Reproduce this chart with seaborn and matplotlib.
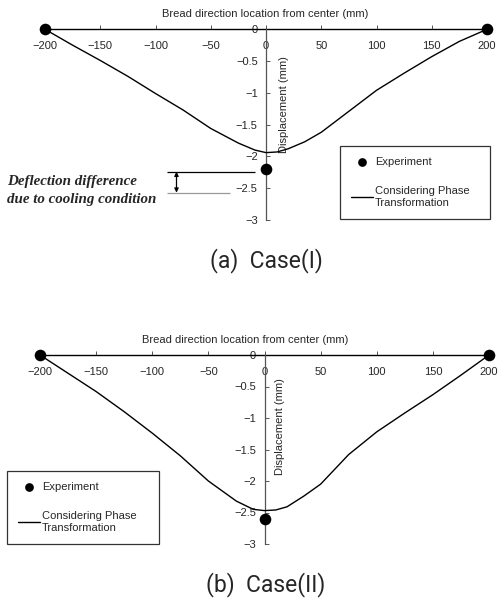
import matplotlib
matplotlib.use("Agg")
import matplotlib.pyplot as plt
import seaborn as sns
import pandas as pd

# ---------------- data ----------------
curve_x = [-200, -175, -150, -125, -100, -75, -50, -25, -10, 0, 10, 20, 35, 50, 75, 100, 125, 150, 175, 200]
case1_y = [0, -0.25, -0.49, -0.74, -1.01, -1.27, -1.56, -1.79, -1.90, -1.94, -1.93, -1.88, -1.77, -1.62, -1.29, -0.96, -0.69, -0.43, -0.19, 0]
case2_y = [0, -0.29, -0.58, -0.90, -1.24, -1.60, -2.00, -2.32, -2.45, -2.47, -2.46, -2.41, -2.24, -2.05, -1.58, -1.22, -0.92, -0.63, -0.32, 0]

exp_x = [-200, 0, 200]
exp1_y = [0, -2.2, 0]
exp2_y = [0, -2.6, 0]

diff_levels = [-2.24, -2.57]   # deflection-difference reference lines (case I)

xticks = [-200, -150, -100, -50, 0, 50, 100, 150, 200]
xtick_labels = ["\u2212200", "\u2212150", "\u2212100", "\u221250", "0", "50", "100", "150", "200"]
yticks = [0, -0.5, -1, -1.5, -2, -2.5, -3]
ytick_labels = ["0", "\u22120.5", "\u22121", "\u22121.5", "\u22122", "\u22122.5", "\u22123"]

xlabel = "Bread direction location from center (mm)"
ylabel = "Displacement (mm)"
exp_label = "Experiment"
sim_label = "Considering Phase\nTransformation"

# ---------------- style ----------------
sns.set_style("white")
plt.rcParams["font.family"] = ["Liberation Sans", "DejaVu Sans"]
plt.rcParams["axes.unicode_minus"] = True

W, H = 498, 599
fig = plt.figure(figsize=(W / 100, H / 100), dpi=100)


def make_panel(rect, cx, cy, ey, legend_box, xlabel_coords, ylabel_coords):
    ax = fig.add_axes(rect)
    ax.set_facecolor("none")
    df = pd.DataFrame({"x": cx, "y": cy})
    de = pd.DataFrame({"x": exp_x, "y": ey})
    sns.lineplot(data=df, x="x", y="y", ax=ax, color="black", lw=1.0,
                 label=sim_label, clip_on=False, zorder=3)
    sns.scatterplot(data=de, x="x", y="y", ax=ax, color="black", s=70,
                    edgecolor="black", linewidth=0, label=exp_label,
                    clip_on=False, zorder=4)
    ax.set_xlim(-200, 200)
    ax.set_ylim(-3, 0)
    for s in ["top", "right"]:
        ax.spines[s].set_visible(False)
    ax.spines["bottom"].set_position(("data", 0))
    ax.spines["left"].set_position(("data", 0))
    ax.spines["bottom"].set_color("black")
    ax.spines["bottom"].set_linewidth(1.0)
    ax.spines["left"].set_color("#555555")
    ax.spines["left"].set_linewidth(0.9)
    ax.spines["bottom"].set_zorder(2)

    ax.set_xticks(xticks)
    ax.set_xticklabels(xtick_labels)
    ax.set_yticks(yticks)
    ax.set_yticklabels(ytick_labels)
    ax.tick_params(axis="x", direction="in", length=3, width=0.7, pad=8.5,
                   labelsize=8, bottom=True, color="#555555")
    ax.tick_params(axis="y", direction="in", length=3, width=0.7, pad=6,
                   labelsize=8, left=True, color="#555555")

    ax.set_xlabel(xlabel, fontsize=8)
    ax.xaxis.set_label_position("top")
    ax.xaxis.set_label_coords(*xlabel_coords)
    ax.set_ylabel(ylabel, fontsize=8, labelpad=0)
    ax.yaxis.set_label_coords(*ylabel_coords)

    handles, labels = ax.get_legend_handles_labels()
    order = [labels.index(exp_label), labels.index(sim_label)]
    leg = ax.legend([handles[i] for i in order], [labels[i] for i in order],
                    loc="upper left", bbox_to_anchor=legend_box, mode="expand",
                    bbox_transform=fig.transFigure, frameon=True,
                    fancybox=False, edgecolor="black", fontsize=8,
                    borderpad=1.0, labelspacing=1.7, handlelength=2.0,
                    handletextpad=0.15, markerscale=0.75, borderaxespad=0)
    leg.get_frame().set_linewidth(0.9)
    return ax


serif_kw = dict(ha="left", va="center", fontsize=10.8, family="Liberation Serif",
                weight="bold", style="italic")
cap_kw = dict(ha="center", va="center", fontsize=16.5,
              family=["Roboto", "Liberation Sans"], weight="normal")

# ---- panel (a) ----
ax1 = make_panel([45 / W, (H - 220) / H, 442 / W, 190.7 / H],
                 curve_x, case1_y, exp1_y,
                 (340 / W, 1 - 218 / H, 150 / W, 72 / H),
                 (0.498, 1.064), (0.552, 0.604))

ax1.hlines(diff_levels[0], -90, -10, color="black", lw=0.9, zorder=2)
ax1.hlines(diff_levels[1], -90, -33, color="#999999", lw=0.9, zorder=2)
ax1.annotate("", xy=(-81, diff_levels[1]), xytext=(-81, diff_levels[0]),
             arrowprops=dict(arrowstyle="<|-|>", lw=0.9, color="black",
                             shrinkA=0, shrinkB=0, mutation_scale=6))

fig.text(7 / W, 1 - 182 / H, "Deflection difference", **serif_kw)
fig.text(7 / W, 1 - 199 / H, "due to cooling condition", **serif_kw)

fig.text(266 / W, 1 - 261 / H, "(a)  Case(I)", **cap_kw)

# ---- panel (b) ----
ax2 = make_panel([40 / W, 55 / H, 449 / W, 189 / H],
                 curve_x, case2_y, exp2_y,
                 (7 / W, 1 - 544 / H, 152 / W, 73 / H),
                 (0.457, 1.063), (0.546, 0.62))

fig.text(266 / W, 1 - 585 / H, "(b)  Case(II)", **cap_kw)

fig.savefig("out.png", dpi=100)
